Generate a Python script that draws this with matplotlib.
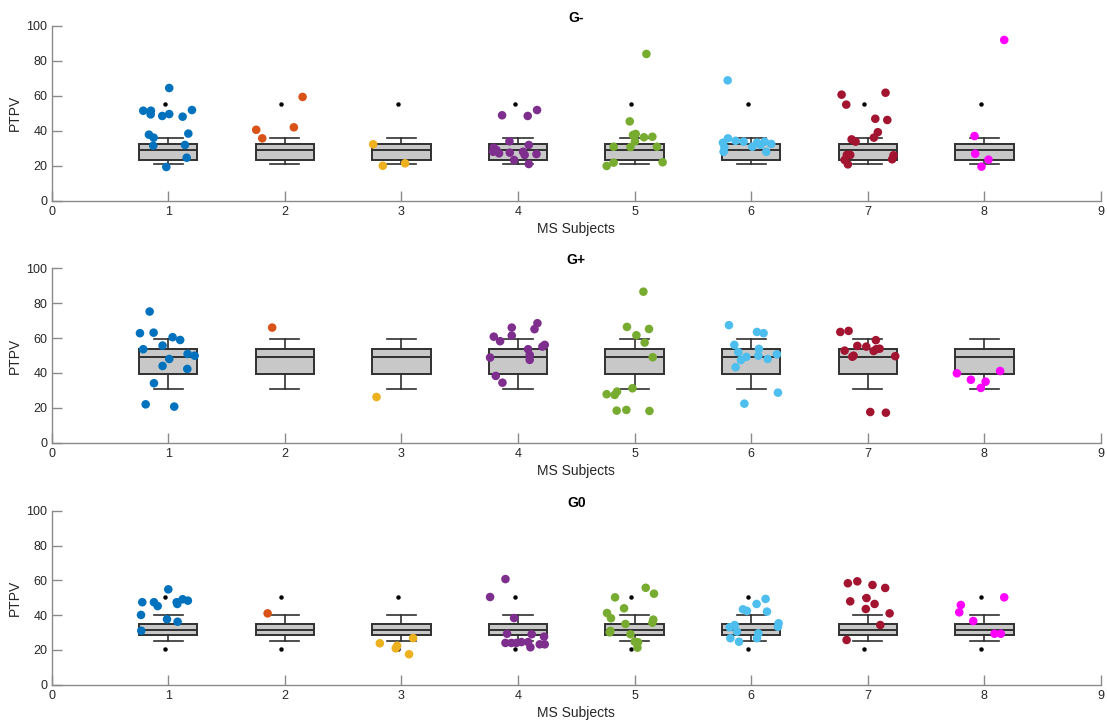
import matplotlib
matplotlib.use("Agg")
import matplotlib.pyplot as plt
import numpy as np

plt.rcParams['font.family'] = ['Liberation Sans', 'DejaVu Sans']

subjects = [1, 2, 3, 4, 5, 6, 7, 8]
panel_titles = ["G-", "G+", "G0"]

# per-subject colours (MATLAB default order + magenta)
subject_colors = ["#0072BD", "#D95319", "#EDB120", "#7E2F8E",
                  "#77AC30", "#4DBEEE", "#A2142F", "#FF00FF"]

# reference box (same at every subject position), per panel
box_q1 = [23.3, 39.6, 28.7]
box_med = [29.0, 49.3, 31.6]
box_q3 = [32.5, 53.8, 34.7]
box_whislo = [21.2, 30.8, 24.9]
box_whishi = [36.1, 59.7, 40.0]
box_fliers = [[55.2], [], [50.4, 20.5]]

# ===== G- =====
gminus_x = [
    [1.008, 0.785, 0.851, 0.849, 0.948, 1.008, 1.123, 1.203, 0.834, 0.874, 1.172, 0.871, 1.143, 1.158, 0.983],
    [1.754, 1.806, 2.077, 2.152],
    [2.757, 2.840, 3.031],
    [3.863, 4.083, 4.163, 3.926, 4.092, 3.792, 3.815, 3.786, 3.837, 3.929, 4.043, 4.057, 4.158, 3.966, 4.092],
    [5.101, 4.958, 4.986, 5.009, 5.080, 5.152, 5.003, 4.820, 4.964, 5.191, 5.240, 4.820, 4.760],
    [5.798, 5.757, 5.800, 5.763, 5.770, 5.866, 5.935, 6.009, 6.049, 6.115, 6.129, 6.172, 6.080],
    [6.775, 7.152, 6.815, 7.064, 7.167, 7.086, 7.052, 6.861, 6.895, 6.820, 6.849, 6.801, 6.829, 7.221, 7.209],
    [8.170, 7.915, 7.921, 8.035, 7.975],
]
gminus_y = [
    [64.5, 51.5, 51.5, 49.4, 48.5, 49.6, 48.1, 51.9, 37.8, 36.1, 38.4, 31.5, 31.9, 24.6, 19.3],
    [40.6, 35.7, 42.0, 59.4],
    [32.3, 20.0, 21.4],
    [48.9, 48.5, 51.9, 34.0, 31.9, 30.3, 29.0, 28.0, 27.1, 27.5, 28.0, 26.2, 26.7, 23.3, 21.0],
    [84.0, 45.4, 37.6, 38.2, 36.3, 36.6, 34.0, 30.9, 30.7, 30.9, 22.0, 21.8, 19.9],
    [68.9, 33.2, 35.7, 28.0, 30.5, 34.3, 33.8, 30.9, 33.2, 33.8, 28.0, 32.5, 32.0],
    [60.7, 61.8, 55.0, 46.9, 46.2, 39.2, 36.1, 35.1, 33.8, 26.2, 26.2, 23.3, 20.8, 26.0, 23.7],
    [92.0, 37.0, 26.9, 23.5, 19.5],
]

# ===== G+ =====
gplus_x = [
    [0.840, 0.757, 0.874, 1.037, 1.102, 0.785, 0.951, 1.008, 1.166, 1.226, 0.951, 1.163, 0.877, 0.806, 1.051],
    [1.891],
    [2.786],
    [3.946, 4.166, 4.141, 3.792, 3.946, 3.846, 4.086, 4.209, 4.229, 3.760, 4.100, 4.100, 3.809, 3.866],
    [5.075, 4.934, 5.123, 5.015, 5.086, 5.155, 4.981, 4.760, 4.829, 4.849, 4.846, 4.929, 5.127],
    [5.809, 5.855, 5.889, 5.912, 5.958, 5.866, 6.049, 6.106, 6.066, 6.061, 6.141, 6.220, 6.229, 5.941],
    [6.764, 6.835, 7.069, 6.910, 6.987, 7.101, 7.072, 7.050, 6.801, 6.867, 6.878, 7.235, 7.021, 7.155],
    [7.764, 7.884, 8.010, 7.969, 8.135],
]
gplus_y = [
    [75.2, 62.8, 63.1, 60.5, 58.9, 53.6, 55.7, 48.0, 50.9, 49.9, 44.0, 42.3, 34.1, 22.0, 20.7],
    [66.0],
    [26.2],
    [66.0, 68.5, 65.1, 60.8, 61.4, 58.2, 53.6, 55.1, 56.1, 48.8, 50.3, 47.5, 38.3, 34.4],
    [86.6, 66.4, 65.2, 61.6, 57.4, 49.0, 31.2, 27.8, 27.4, 29.3, 18.4, 18.8, 18.2],
    [67.4, 56.1, 51.9, 47.4, 49.2, 43.3, 63.5, 62.8, 53.8, 49.9, 48.0, 50.7, 28.7, 22.4],
    [63.5, 64.1, 58.8, 55.5, 55.1, 53.9, 53.6, 52.6, 52.8, 49.3, 49.9, 49.6, 17.6, 17.2],
    [39.8, 36.1, 35.0, 31.4, 41.1],
]

# ===== G0 =====
gzero_x = [
    [1.000, 0.777, 0.877, 0.909, 1.077, 1.072, 1.123, 1.168, 0.766, 0.989, 1.080, 0.768],
    [1.852],
    [2.814, 2.963, 2.951, 3.100, 3.065],
    [3.892, 3.760, 3.966, 3.906, 4.117, 4.223, 3.892, 3.943, 3.986, 4.029, 4.086, 4.106, 4.186, 4.229],
    [5.095, 5.166, 4.832, 4.909, 4.763, 4.797, 5.160, 5.152, 4.921, 4.792, 4.786, 4.964, 5.001, 5.029, 5.024],
    [6.123, 6.046, 5.929, 5.963, 6.135, 6.235, 6.229, 5.858, 5.815, 5.878, 6.061, 6.049, 5.821, 5.895],
    [6.829, 6.910, 7.040, 7.149, 6.849, 6.989, 6.983, 7.058, 7.187, 7.107, 6.818],
    [8.170, 7.798, 7.784, 7.904, 8.087, 8.141],
]
gzero_y = [
    [54.8, 47.4, 47.4, 45.2, 46.4, 47.4, 49.1, 48.3, 40.1, 37.6, 36.2, 31.0],
    [41.0],
    [23.8, 22.4, 20.9, 26.8, 17.5],
    [60.7, 50.4, 38.3, 29.3, 29.0, 27.6, 24.0, 24.0, 24.0, 24.5, 24.5, 21.5, 23.2, 23.2],
    [55.7, 52.3, 50.2, 43.9, 41.2, 38.2, 37.4, 35.6, 34.9, 30.9, 30.1, 29.0, 24.7, 24.4, 21.3],
    [49.3, 46.4, 43.3, 42.4, 42.0, 35.3, 33.3, 34.3, 33.0, 30.5, 29.5, 26.7, 26.7, 24.7],
    [58.3, 59.4, 57.3, 55.6, 47.9, 49.8, 43.5, 46.4, 41.0, 34.3, 25.7],
    [50.2, 45.8, 41.6, 36.6, 29.3, 29.3],
]

panel_x = [gminus_x, gplus_x, gzero_x]
panel_y = [gminus_y, gplus_y, gzero_y]

W, H = 1107, 722
fig = plt.figure(figsize=(W / 100, H / 100), dpi=100)

# axes rectangles in pixels: left, top, right, bottom
ax_px = [(51.7, 26.0, 1101.0, 200.7),
         (51.7, 268.3, 1101.0, 442.7),
         (51.7, 510.7, 1101.0, 684.7)]

edge = "#303030"
axis_gray = "#8a8a8a"
text_col = "#262626"

for i, (l, t, r, b) in enumerate(ax_px):
    ax = fig.add_axes([l / W, 1 - b / H, (r - l) / W, (b - t) / H])

    stats = [dict(q1=box_q1[i], med=box_med[i], q3=box_q3[i],
                  whislo=box_whislo[i], whishi=box_whishi[i], fliers=[])
             for _ in subjects]
    ax.bxp(stats, positions=subjects, widths=0.5, capwidths=0.25,
           patch_artist=True, showfliers=False,
           boxprops=dict(facecolor="#c8c8c8", edgecolor=edge, linewidth=1.4),
           whiskerprops=dict(color=edge, linewidth=1.2),
           capprops=dict(color=edge, linewidth=1.2),
           medianprops=dict(color=edge, linewidth=1.4))

    # outlier markers of the reference box
    for s in subjects:
        f = box_fliers[i]
        if f:
            ax.plot(np.full(len(f), s - 0.03), f, linestyle="none",
                    marker="o", markersize=2.2, color="black", zorder=3)

    for k, s in enumerate(subjects):
        ax.scatter(panel_x[i][k], panel_y[i][k], s=38,
                   color=subject_colors[k], edgecolors="none", zorder=4)

    ax.set_xlim(0, 9)
    ax.set_ylim(0, 100)
    ax.set_xticks(range(0, 10))
    ax.set_xticklabels([str(v) for v in range(0, 10)])
    ax.set_yticks(range(0, 101, 20))

    for side in ("top", "right"):
        ax.spines[side].set_visible(False)
    for side in ("left", "bottom"):
        ax.spines[side].set_color(axis_gray)
        ax.spines[side].set_linewidth(1.0)

    ax.tick_params(direction="in", length=7.5, width=1.0, color=axis_gray,
                   labelcolor=text_col, labelsize=9)
    ax.tick_params(axis="x", pad=4)
    ax.tick_params(axis="y", pad=3)

    ax.set_xlabel("MS Subjects", fontsize=10, color=text_col, labelpad=3)
    ax.set_ylabel("PTPV", fontsize=10, color=text_col, labelpad=3)
    ax.set_title(panel_titles[i], fontsize=10, fontweight="bold", pad=3)

fig.savefig("out.png", dpi=100)
